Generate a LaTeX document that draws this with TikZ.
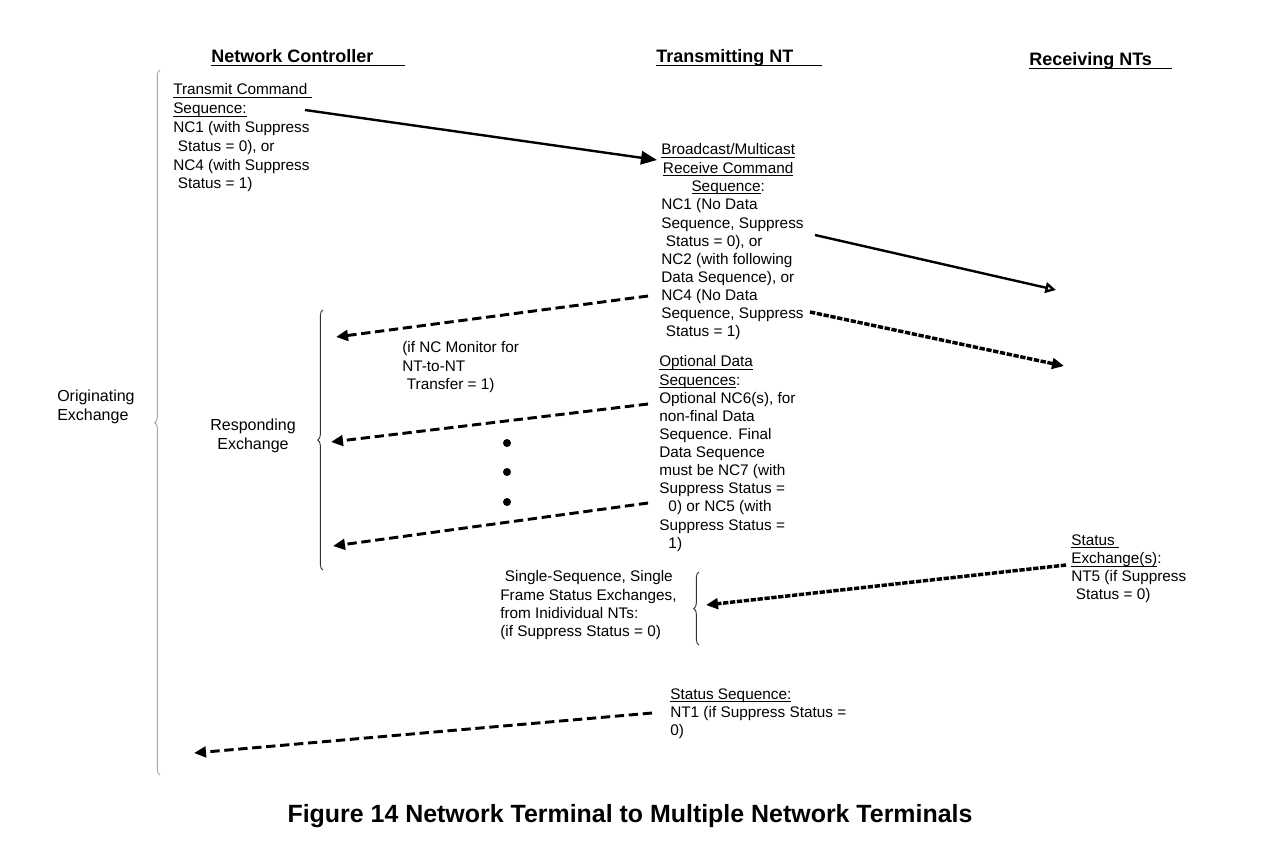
\documentclass[tikz,border=0pt]{standalone}
\usepackage{amsmath}
\usepackage{fontspec}
\setmainfont{Liberation Sans}
\usetikzlibrary{arrows.meta,decorations.pathreplacing,positioning}
\newcommand\ulin[1]{\underline{\smash[b]{#1}}}
\tikzset{
    head/.style =   {anchor=base west,
                    inner sep=0pt,
                    font=\fontsize{13.5}{16}\selectfont\bfseries},
    note/.style =   {anchor=north west,
                    inner sep=0pt,
                    align=left,
                    font=\fontsize{11.5}{13.6}\selectfont},
    side/.style =   {anchor=north,
                    inner sep=0pt,
                    align=center,
                    font=\fontsize{12}{13.6}\selectfont},
    dot/.style =    {circle,
                    fill=black,
                    inner sep=0pt,
                    minimum size=6pt},
    cmd/.style =    {line width=1.8pt,
                    -{Triangle[length=12pt,width=10pt]}},
    fwd/.style =    {line width=1.8pt,
                    -{Triangle[open,length=8pt,width=8pt]}},
    ack/.style =    {line width=2.2pt,
                    dash pattern=on 7pt off 3.5pt,
                    -{Triangle[length=9pt,width=8pt]}},
    sts/.style =    {line width=2.6pt,
                    dash pattern=on 4pt off 1.2pt,
                    -{Triangle[length=9pt,width=8pt]}},
    grp/.style =    {decorate,
                    decoration={brace,amplitude=4pt},
                    line width=0.7pt},
    -,
    draw=black}

\begin{document}
\begin{tikzpicture}[x=0.75pt,y=-0.75pt]
                \useasboundingbox (0,0) rectangle (1276,846);
                \node[head]     (NC)    at (211,62)     {Network Controller};
                \node[head]     (TNT)   at (656,62)     {Transmitting NT};
                \node[head]     (RNT)   at (1029,65)    {Receiving NTs};
                \draw [line width=0.8pt] ([yshift=-2.5pt]NC.base west) -- ++(194,0);
                \draw [line width=0.8pt] ([yshift=-2.5pt]TNT.base west) -- ++(166,0);
                \draw [line width=0.8pt] ([yshift=-2.5pt]RNT.base west) -- ++(143,0);

                \node[note,font=\fontsize{11.5}{14.1}\selectfont] (TCS) at (173,83.5) {\ulin{Transmit Command\ }\\\ulin{Sequence:}\\NC1 (with Suppress\\\hspace*{0.3em}Status = 0), or\\NC4 (with Suppress\\\hspace*{0.3em}Status = 1)};
                \node[note,align=center] (BRC) at (661,143.5) {\ulin{Broadcast/Multicast}\\\ulin{Receive Command}\\\ulin{Sequence}:};
                \node[note]     (BRS)   at (661,198.5)  {NC1 (No Data\\Sequence, Suppress\\\hspace*{0.3em}Status = 0), or\\NC2 (with following\\Data Sequence), or\\NC4 (No Data\\Sequence, Suppress\\\hspace*{0.3em}Status = 1)};
                \node[note]     (MON)   at (402,341.5)  {(if NC Monitor for\\NT-to-NT\\\hspace*{0.3em}Transfer = 1)};
                \node[note]     (ODS)   at (659,355.5)  {\ulin{Optional Data}\\\ulin{Sequences}:\\Optional NC6(s), for\\non-final Data\\Sequence. Final\\Data Sequence\\must be NC7 (with\\Suppress Status =\\\hspace*{0.6em}0) or NC5 (with\\Suppress Status =\\\hspace*{0.6em}1)};
                \node[note]     (SSF)   at (500,570.5)  {\hspace*{0.3em}Single-Sequence, Single\\Frame Status Exchanges,\\from Inidividual NTs:\\(if Suppress Status = 0)};
                \node[note]     (STX)   at (1071,534.5) {\ulin{Status\ }\\\ulin{Exchange(s)}:\\NT5 (if Suppress\\\hspace*{0.3em}Status = 0)};
                \node[note]     (STS)   at (670,688.5)  {\ulin{Status Sequence:}\\NT1 (if Suppress Status =\\0)};
                \node[side,anchor=north west,align=left] (ORG) at (57,390) {Originating\\Exchange};
                \node[side]     (RSP)   at (253,419)    {Responding\\Exchange};
                \node[font=\fontsize{18.7}{22}\selectfont\bfseries,anchor=base] (CAP) at (630,822) {Figure 14 Network Terminal to Multiple Network Terminals};

                \node[dot]      (d1)    at (507,443)    {};
                \node[dot]      (d2)    at (507,472)    {};
                \node[dot]      (d3)    at (507,502)    {};

                \coordinate     (ob)    at (160,775);
                \coordinate     (ot)    at (160,70);
                \coordinate     (rb)    at (323,570);
                \coordinate     (rt)    at (323,310);
                \coordinate     (sb)    at (699,645);
                \coordinate     (st)    at (699,572);
                \draw [grp,draw=black!35] (ob) -- (ot);
                \draw [grp,draw=black!80] (rb) -- (rt);
                \draw [grp,draw=black!80] (sb) -- (st);

                \coordinate     (a1)    at (305,110);
                \coordinate     (b1)    at (657,160);
                \coordinate     (a2)    at (815,235);
                \coordinate     (b2)    at (1056,290);
                \coordinate     (a3)    at (648,296);
                \coordinate     (b3)    at (336,337);
                \coordinate     (a4)    at (810,312);
                \coordinate     (b4)    at (1064,366);
                \coordinate     (a5)    at (648,404);
                \coordinate     (b5)    at (331,442);
                \coordinate     (a6)    at (648,503);
                \coordinate     (b6)    at (333,546);
                \coordinate     (a7)    at (1066,565);
                \coordinate     (b7)    at (706,605);
                \coordinate     (a8)    at (652,713);
                \coordinate     (b8)    at (194,753);

                \path   (a1) edge [cmd]     (b1)
                        (a2) edge [fwd]     (b2)
                        (a3) edge [ack]     (b3)
                        (a4) edge [sts]     (b4)
                        (a5) edge [ack]     (b5)
                        (a6) edge [ack]     (b6)
                        (a7) edge [sts]     (b7)
                        (a8) edge [ack]     (b8);
        \end{tikzpicture}
\end{document}
